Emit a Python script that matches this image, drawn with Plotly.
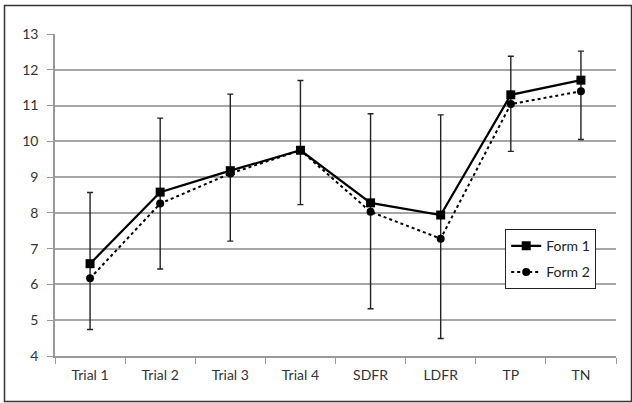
import plotly.graph_objects as go

categories = ["Trial 1", "Trial 2", "Trial 3", "Trial 4", "SDFR", "LDFR", "TP", "TN"]
form1 = [6.58, 8.58, 9.18, 9.75, 8.28, 7.94, 11.30, 11.71]
form2 = [6.17, 8.26, 9.10, 9.75, 8.03, 7.28, 11.04, 11.40]
err_top = [8.57, 10.65, 11.32, 11.70, 10.77, 10.74, 12.38, 12.52]
err_bottom = [4.74, 6.43, 7.21, 8.23, 5.32, 4.49, 9.72, 10.05]

err_plus = [t - v for t, v in zip(err_top, form1)]
err_minus = [v - b for b, v in zip(err_bottom, form1)]

W, H = 632, 403
L, R, T, B = 55, 16, 34, 47
pw, ph = W - L - R, H - T - B

fig = go.Figure()
fig.add_trace(go.Scatter(
    x=categories, y=form1, name="Form 1", mode="lines+markers", legendgroup="f1",
    line=dict(color="#000000", width=2.2),
    marker=dict(symbol="square", size=9, color="#000000"),
    error_y=dict(type="data", symmetric=False, array=err_plus, arrayminus=err_minus,
                 color="#222222", thickness=1.4, width=3),
))
fig.add_trace(go.Scatter(
    x=categories, y=form2, name="Form 2", mode="lines+markers", legendgroup="f2",
    line=dict(color="#000000", width=2, dash="dot"),
    marker=dict(symbol="circle", size=8, color="#000000"),
))

def px_x(p):
    return (p - L) / pw

def px_y(p):
    return (H - B - p) / ph

fig.add_shape(type="rect", xref="paper", yref="paper",
              x0=px_x(4.5), x1=px_x(631.5), y0=px_y(401.5), y1=px_y(5.5),
              line=dict(color="#333333", width=1.5), fillcolor="rgba(0,0,0,0)", layer="below")

fig.update_layout(
    width=W, height=H,
    margin=dict(l=L, r=R, t=T, b=B),
    paper_bgcolor="white", plot_bgcolor="white",
    font=dict(family="Lato, Open Sans, sans-serif", size=14, color="#333333"),
    showlegend=True,
    legend=dict(x=px_x(505), y=px_y(229), xanchor="left", yanchor="top",
                bordercolor="#222222", borderwidth=1.2, bgcolor="white",
                font=dict(size=14, color="#222222"), tracegroupgap=5,
                itemwidth=30),
    xaxis=dict(type="category", range=[-0.5, 7.5], showgrid=False,
               showline=True, linecolor="#999999", linewidth=1.5,
               ticks="outside", tickson="boundaries", ticklen=6, tickcolor="#999999",
               ticklabelstandoff=5,
               tickfont=dict(size=14, color="#333333"), zeroline=False),
    yaxis=dict(range=[4, 13], dtick=1, showgrid=True, gridcolor="#a6a6a6", gridwidth=1.5,
               showline=True, linecolor="#999999", linewidth=1.5,
               ticks="outside", ticklen=6, tickcolor="#999999",
               ticklabelstandoff=6,
               tickfont=dict(size=14, color="#333333"), zeroline=False),
)

fig.write_html("out.html", post_script="document.body.style.margin='0';",
               config={"displayModeBar": False})
